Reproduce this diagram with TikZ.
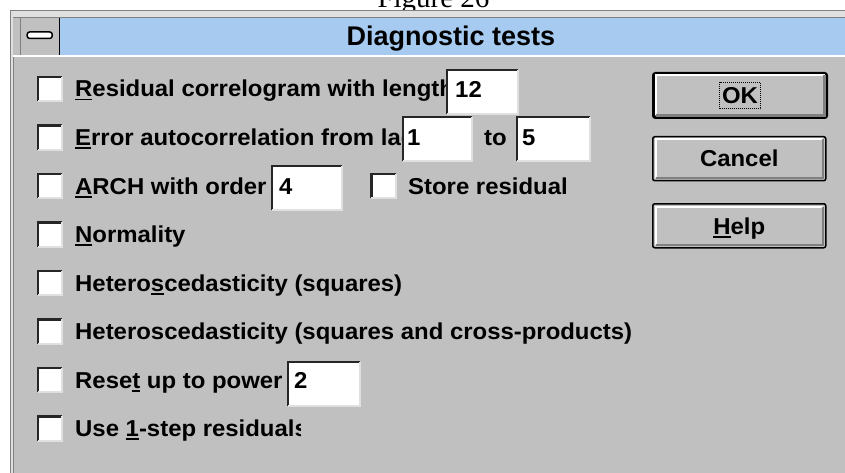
\documentclass[tikz,border=0pt]{standalone}
\usepackage{fontspec}
\newfontfamily\uifont{Liberation Sans}[FakeStretch=1.04]
\newfontfamily\ttlfont{Liberation Sans}
\newfontfamily\figfont{Liberation Serif}
\usetikzlibrary{positioning}
\definecolor{winGray}{HTML}{C0C0C0}
\definecolor{winDark}{HTML}{808080}
\definecolor{winLite}{HTML}{E0E0E0}
\definecolor{titleBlue}{HTML}{A6CAF0}
\newcommand{\ukey}[1]{\leavevmode\setbox0\hbox{#1}\rlap{\rule[-3.5pt]{\wd0}{1.8pt}}\box0\relax}
% sunken and raised 3D edges round a named node
\newcommand{\sunk}[1]{%
  \draw[black!85, line width=2.5] (#1.south west) -- (#1.north west) -- (#1.north east);
  \draw[winLite, line width=2] (#1.north east) -- (#1.south east) -- (#1.south west);}
\newcommand{\raised}[1]{%
  \draw[white, line width=2] ([shift={(3.5,-3.5)}]#1.south west) -- ([shift={(3.5,3.5)}]#1.north west) -- ([shift={(-3.5,3.5)}]#1.north east);
  \draw[winDark, line width=2.5] ([shift={(-3.5,3.5)}]#1.north east) -- ([shift={(-3.5,-3.5)}]#1.south east) -- ([shift={(3.5,-3.5)}]#1.south west);}
\tikzset{
  ui/.style={font=\uifont\bfseries\fontsize{23}{27}\selectfont, inner sep=0pt, anchor=base west},
  chk/.style={fill=white, minimum size=24, inner sep=0pt},
  fld/.style={fill=white, minimum width=71, minimum height=44, inner sep=0pt, anchor=north west},
  btn/.style={draw=black, fill=winGray, line width=1.5, rounded corners=2, minimum width=173, minimum height=44,
    inner sep=0pt, anchor=north west, font=\uifont\bfseries\fontsize{23}{27}\selectfont, text height=16.5, text depth=0},
}
\begin{document}
\begin{tikzpicture}[x=1pt,y=-1pt]
\useasboundingbox (0,0) rectangle (845,473);
\clip (0,0) rectangle (845,473);
\fill[white] (0,0) rectangle (845,473);
\node[font=\figfont\fontsize{29}{30}\selectfont, inner sep=0pt, anchor=base] (fig) at (433.5,7.5) {Figure 26};
% ================= window frame =================
\fill[winGray] (10,10) rectangle (860,490);
\fill[winLite] (10,10) rectangle (860,17);
\fill[winLite] (10,10) rectangle (13,490);
\draw[winDark, line width=1.2] (10.6,490) -- (10.6,10.6) -- (860,10.6);
\draw[winDark, line width=1.2] (13.4,490) -- (13.4,57) (13.4,17.4) -- (860,17.4);
% ================= title bar =================
\node[fill=titleBlue, minimum width=840, minimum height=37, inner sep=0pt, anchor=north west] (bar) at (20,18) {};
\draw[white, line width=1.5] (13.4,56.2) -- (860,56.2);
\node[fill=winGray, minimum width=39, minimum height=37, inner sep=0pt, anchor=north west] (sysbox) at (20,18) {};
\draw[black, line width=1.5] (sysbox.north east) -- (sysbox.south east);
\draw[winDark, line width=1] (sysbox.north west) -- (sysbox.south west);
\node[draw=black, fill=white, line width=1.5, rounded corners=2.5, minimum width=25, minimum height=6.5, inner sep=0pt] (sysdash) at ([shift={(0,-1.5)}]sysbox.center) {};
\node[font=\ttlfont\bfseries\fontsize{27}{30}\selectfont, inner sep=0pt, anchor=base] (ttl) at (451,46) {Diagnostic tests};
% ================= check boxes and labels =================
\begin{scope}
\clip (70,70) rectangle (446,110);
\node[ui] (l1) at (75,97) {\ukey{R}esidual correlogram with length};
\end{scope}
\begin{scope}
\clip (70,118) rectangle (402,160);
\node[ui] (l2) at (75,145.5) {\ukey{E}rror autocorrelation from lag};
\end{scope}
\foreach \i/\y/\t in {3/186/{\ukey{A}RCH with order},
    4/234.5/{\ukey{N}ormality},
    5/283/{Hetero\ukey{s}cedasticity (squares)},
    6/331.5/{Heteroscedasticity (squares and cross-products)},
    7/380/{Rese\ukey{t} up to power}}{
  \node[ui] (l\i) at (75,\y+8) {\t};}
\foreach \i/\y in {1/89, 2/137.5, 3/186, 4/234.5, 5/283, 6/331.5, 7/380, 8/428.5}{
  \node[chk] (c\i) at (50,\y) {};
  \sunk{c\i}}
\begin{scope}
\clip (70,400) rectangle (300,460);
\node[ui] (l8) at (75,436.5) {Use \ukey{1}-step residuals};
\end{scope}
\node[chk] (cst) at (383.5,186) {};
\sunk{cst}
\node[ui] (lst) at (408,194) {Store residual};
% ================= edit fields =================
\node[fld] (lenf) at (447,70) {};
\sunk{lenf}
\node[ui] (lenv) at (455,98) {12};
\node[fld, minimum width=69] (lagf) at (403,117) {};
\sunk{lagf}
\node[ui] (lagv) at (407,146) {1};
\node[ui] (to) at (484,146) {to};
\node[fld, minimum width=73] (tof) at (517,117) {};
\sunk{tof}
\node[ui] (tov) at (522,146) {5};
\node[fld, minimum width=70] (ordf) at (272,166) {};
\sunk{ordf}
\node[ui] (ordv) at (279,194.5) {4};
\node[fld, minimum width=72] (powf) at (288,362) {};
\sunk{powf}
\node[ui] (powv) at (294,388.5) {2};
% ================= buttons =================
\node[btn, line width=3] (ok) at (652,72) {};
\raised{ok}
\node[font=\uifont\bfseries\fontsize{23}{27}\selectfont, draw=black, densely dotted, line width=1, inner xsep=2.5, inner ysep=5, text height=16.5, text depth=0] (oklbl) at (ok.center) {OK};
\node[btn] (cancel) at (652,136) {Cancel};
\raised{cancel}
\node[btn] (help) at (652,203) {\ukey{H}elp};
\raised{help}
\end{tikzpicture}
\end{document}
